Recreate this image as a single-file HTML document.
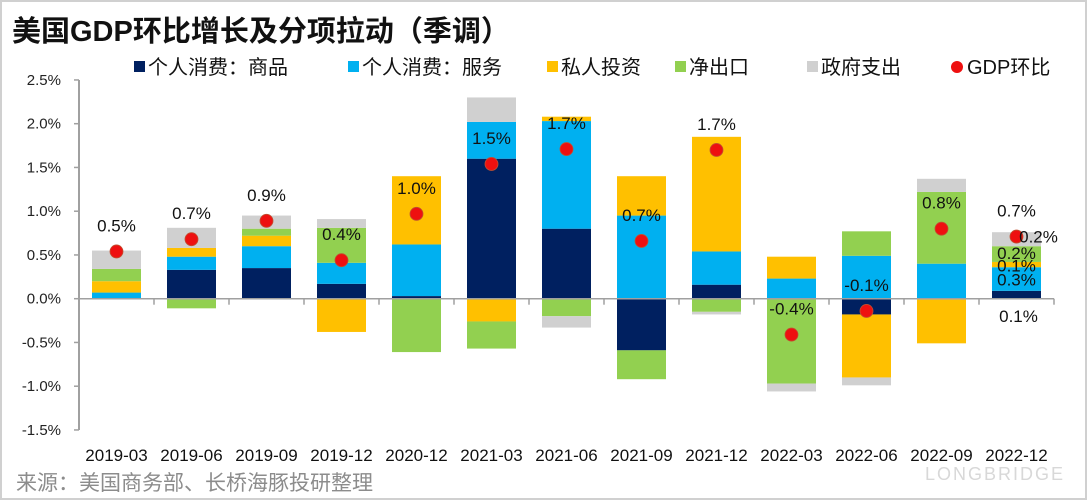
<!DOCTYPE html>
<html><head><meta charset="utf-8">
<style>
body{margin:0;background:#fff;}
#wrap{position:relative;width:1087px;height:500px;overflow:hidden;background:#fff;font-family:"Liberation Sans","Noto Sans CJK SC",sans-serif;}
#frame{position:absolute;left:0;top:0;width:1083px;height:496px;border:2px solid #d0d0d0;}
#title{position:absolute;left:12px;top:8px;font-size:29px;font-weight:bold;color:#111;letter-spacing:0px;}
#footer{position:absolute;left:16px;top:467px;font-size:21px;color:#8c8c8c;}
</style></head>
<body>
<div id="wrap">
<div id="frame"></div>
<div id="title">美国GDP环比增长及分项拉动（季调）</div>
<svg id="chart" width="1087" height="500" style="position:absolute;left:0;top:0"></svg>
<div id="footer">来源：美国商务部、长桥海豚投研整理</div>
</div>
<script>
const categories=["2019-03","2019-06","2019-09","2019-12","2020-12","2021-03","2021-06","2021-09","2021-12","2022-03","2022-06","2022-09","2022-12"];
const goods=[0.00,0.33,0.35,0.17,0.03,1.60,0.80,-0.59,0.16,0.00,-0.18,-0.01,0.09];
const services=[0.07,0.15,0.25,0.24,0.59,0.42,1.23,0.95,0.38,0.23,0.49,0.40,0.27];
const investment=[0.13,0.10,0.12,-0.38,0.78,-0.26,0.05,0.45,1.31,0.25,-0.72,-0.50,0.06];
const netExports=[0.14,-0.11,0.08,0.40,-0.61,-0.31,-0.20,-0.33,-0.15,-0.97,0.28,0.82,0.18];
const government=[0.21,0.23,0.15,0.10,0.00,0.28,-0.13,0.00,-0.03,-0.09,-0.09,0.15,0.16];
const gdp=[0.54,0.68,0.89,0.44,0.97,1.54,1.71,0.66,1.70,-0.41,-0.14,0.80,0.71];
const gdpLabels=["0.5%","0.7%","0.9%","0.4%","1.0%","1.5%","1.7%","0.7%","1.7%","-0.4%","-0.1%","0.8%","0.7%"];
const yTicks=[2.5,2.0,1.5,1.0,0.5,0.0,-0.5,-1.0,-1.5];
const yTickLabels=["2.5%","2.0%","1.5%","1.0%","0.5%","0.0%","-0.5%","-1.0%","-1.5%"];
const seriesNames=["个人消费：商品","个人消费：服务","私人投资","净出口","政府支出"];
const colors=["#002060","#00B0F0","#FFC000","#92D050","#D0D0D0"];

const NS="http://www.w3.org/2000/svg";
const svg=document.getElementById('chart');
const x0=79,step=75,barW=49,zeroY=298.7,pxPer=87.5;
function y(v){return zeroY-v*pxPer;}
function xc(i){return x0+step*(i+0.5);}
function mk(tag,attrs,parent){const e=document.createElementNS(NS,tag);for(const k in attrs)e.setAttribute(k,attrs[k]);(parent||svg).appendChild(e);return e;}

let ax=mk('line',{x1:x0,x2:x0,y1:y(2.5),y2:y(-1.5),stroke:'#a0a0a0','stroke-width':2});


yTicks.forEach((t,i)=>{
  const tk=mk('line',{x1:x0-5,x2:x0,y1:y(t),y2:y(t),stroke:'#a0a0a0','stroke-width':1.5});
  
  
  const tx=mk('text',{x:61,y:y(t)+5,'text-anchor':'end','font-size':15,fill:'#222'});
  tx.textContent=yTickLabels[i];
  
  
});

const series=[goods,services,investment,netExports,government];
categories.forEach((c,i)=>{
  let pos=0,neg=0;
  series.forEach((s,k)=>{
    const v=s[i]; if(v===0)return;
    let top,bot;
    if(v>0){top=pos+v;bot=pos;pos=top;}else{top=neg;bot=neg+v;neg=bot;}
    const r=mk('rect',{x:xc(i)-barW/2,y:y(top),width:barW,height:y(bot)-y(top),fill:colors[k]});
    
    
  });
});
let xa=mk('line',{x1:x0,x2:x0+step*categories.length,y1:zeroY,y2:zeroY,stroke:'#a0a0a0','stroke-width':1.5});


categories.forEach((c,i)=>{
  const tk=mk('line',{x1:x0+step*(i+1),x2:x0+step*(i+1),y1:zeroY,y2:zeroY+6,stroke:'#a0a0a0','stroke-width':1.5});
  
  
  const tx=mk('text',{x:xc(i),y:461,'text-anchor':'middle','font-size':17,fill:'#111'});
  tx.textContent=c;
  
  
});
gdp.forEach((v,i)=>{
  const d=mk('circle',{cx:xc(i),cy:y(v),r:6.5,fill:'#EE1010',stroke:'#c05030','stroke-width':0.8});
  
  
  const t=mk('text',{x:xc(i),y:y(v)-20,'text-anchor':'middle','font-size':17,fill:'#111'});
  t.textContent=gdpLabels[i];
  
  
});
const lastI=categories.length-1;
const extraText=["0.2%","0.2%","0.1%","0.3%","0.1%"];
const extraVals=[gdp[lastI],0.52,0.38,0.22,-0.2];
const extraDx=[22,0,0,0,2];
extraText.forEach((t,k)=>{
  const e=mk('text',{x:xc(lastI)+extraDx[k],y:y(extraVals[k])+6,'text-anchor':'middle','font-size':17,fill:'#111'});
  e.textContent=t;
  
  
});
const legX=[134,348,547,675,807];
seriesNames.forEach((n,k)=>{
  const r=mk('rect',{x:legX[k],y:61,width:11,height:11,fill:colors[k]});
  
  
  const t=mk('text',{x:legX[k]+14,y:74,'font-size':20,fill:'#111'});
  t.textContent=n;
  
  
});
const lc=mk('circle',{cx:957,cy:67,r:6,fill:'#EE1010'});


const lt=mk('text',{x:967,y:74,'font-size':20,fill:'#111'});
lt.textContent="GDP环比";


const wm=mk('text',{x:1065,y:480,'text-anchor':'end','font-size':18,fill:'#d8d8d8','letter-spacing':2});
wm.textContent="LONGBRIDGE";


</script>
</body></html>
